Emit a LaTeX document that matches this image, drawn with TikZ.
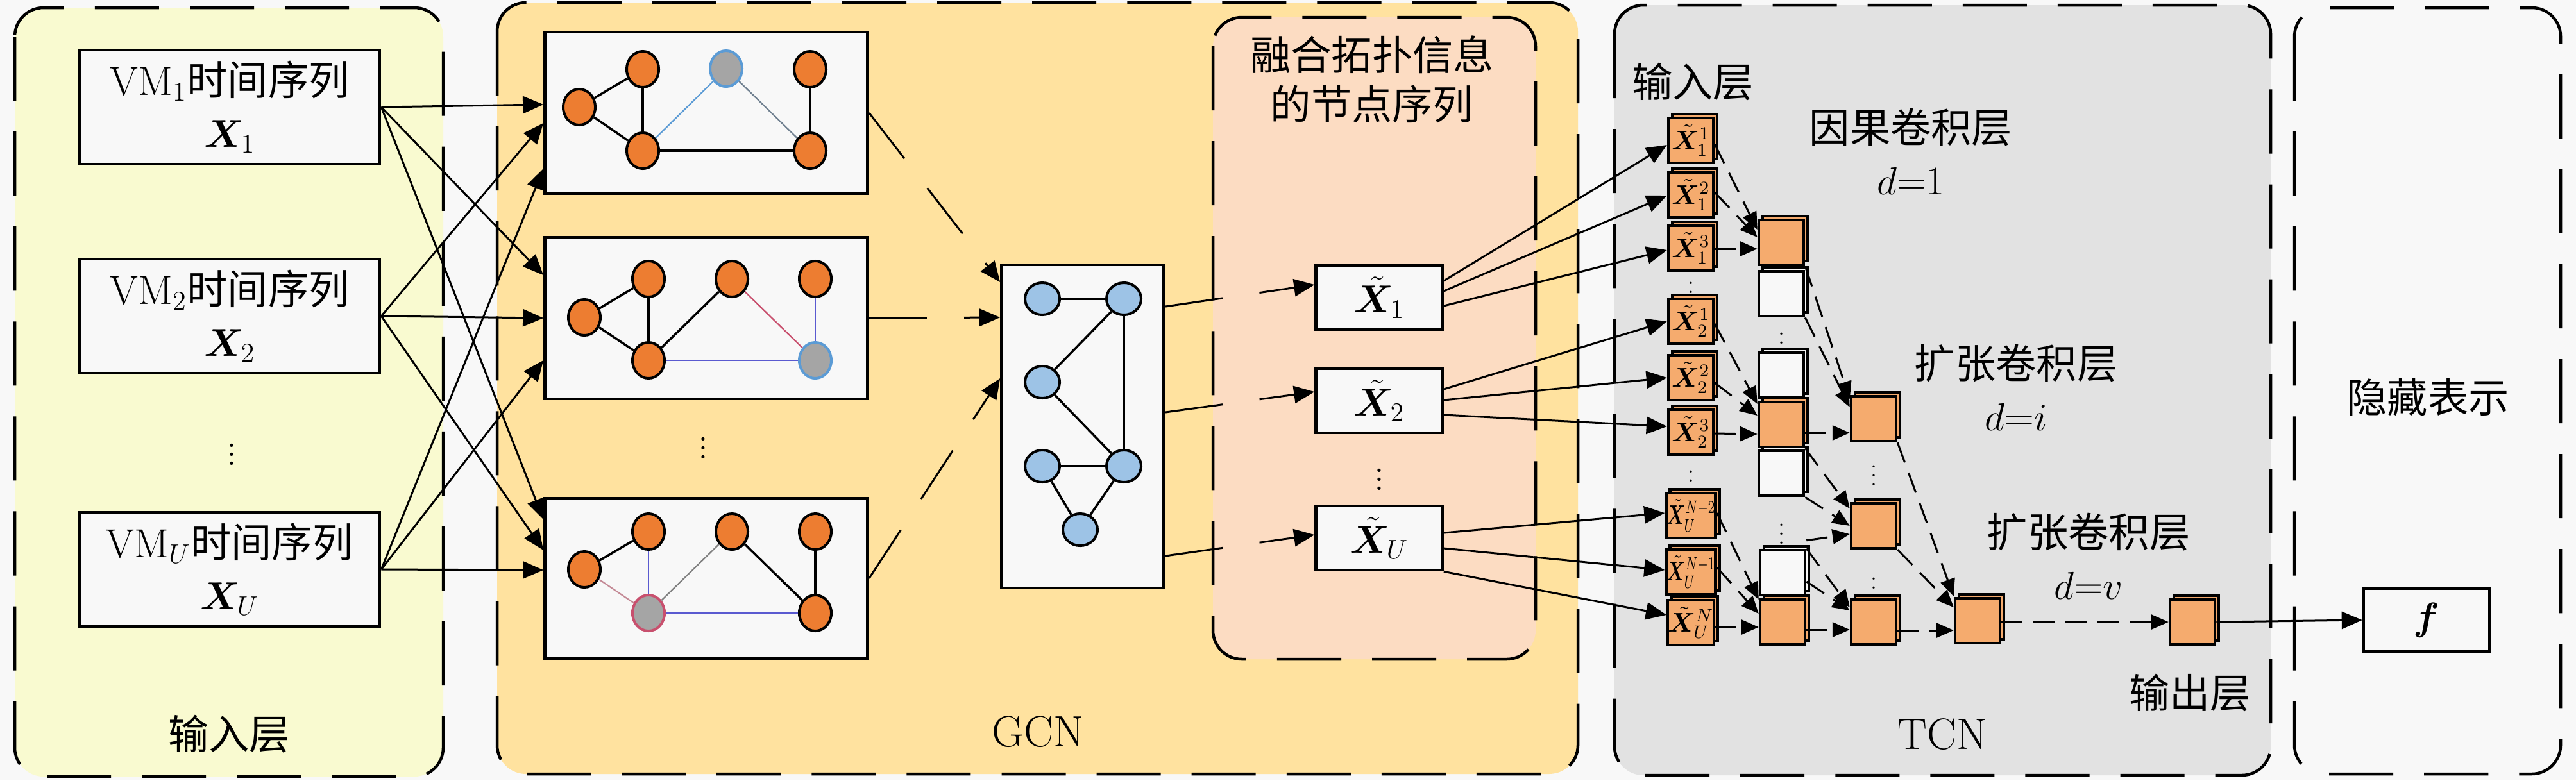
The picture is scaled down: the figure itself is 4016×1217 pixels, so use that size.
\documentclass[tikz,border=0pt]{standalone}
\usepackage{fontspec}
\usepackage{amsmath}
\usepackage{bm}
\newfontfamily\cjkfont{Noto Sans CJK SC}
\newcommand{\zhtxt}[1]{{\cjkfont #1}}
\usetikzlibrary{arrows.meta,shapes.geometric,shadows}
\definecolor{bgc}{HTML}{F8F8F8}
\definecolor{inpc}{HTML}{F9FAD0}
\definecolor{gcnc}{HTML}{FFE29F}
\definecolor{fusc}{HTML}{FCDCC2}
\definecolor{tcnc}{HTML}{E2E2E2}
\definecolor{orn}{HTML}{ED7D31}
\definecolor{gry}{HTML}{A5A5A5}
\definecolor{lblu}{HTML}{9DC3E6}
\definecolor{sqc}{HTML}{F5AB6E}
\definecolor{eblue}{HTML}{5B9BD5}
\definecolor{eslate}{HTML}{708090}
\definecolor{epur}{HTML}{5A5AD0}
\definecolor{epink}{HTML}{C8506E}
\definecolor{erose}{HTML}{C48A96}
\begin{document}
\begin{tikzpicture}[x=0.01cm,y=-0.01cm,
  every node/.style={font=\fontsize{18}{23}\selectfont},
  panel/.style={draw=black,line width=0.045cm,dash pattern=on 1cm off 0.48cm,rounded corners=0.45cm},
  sbox/.style={draw=black,line width=0.045cm,fill=bgc,inner sep=0pt,align=center},
  onode/.style={ellipse,draw=black,line width=0.04cm,fill=orn,minimum width=0.5cm,minimum height=0.56cm,inner sep=0pt},
  bnode/.style={ellipse,draw=black,line width=0.04cm,fill=lblu,minimum width=0.54cm,minimum height=0.5cm,inner sep=0pt},
  gedge/.style={line width=0.035cm},
  cedge/.style={line width=0.022cm},
  conn/.style={line width=0.03cm,-{Triangle[length=0.32cm,width=0.27cm]}},
  lconn/.style={conn,dash pattern=on 0.9cm off 0.58cm},
  tconn/.style={line width=0.03cm,dash pattern=on 0.33cm off 0.17cm,-{Triangle[length=0.27cm,width=0.23cm]}},
  sqo/.style={draw=black,fill=sqc,line width=0.045cm,minimum size=0.7cm,inner sep=0pt,
    copy shadow={shadow xshift=0.06cm,shadow yshift=0.06cm},font=\fontsize{11.5}{12}\selectfont},
  sqw/.style={sqo,fill=bgc},
  tdots/.style={font=\fontsize{9}{10}\selectfont,inner sep=0pt}
]
\useasboundingbox (0,0) rectangle (4016,1217);
\fill[bgc] (0,0) rectangle (4016,1217);

% panels
\draw[panel,fill=inpc] (23,12) rectangle (691,1211);
\draw[panel,fill=gcnc] (775,4) rectangle (2460,1207);
\draw[panel,fill=fusc] (1891,27) rectangle (2394,1028);
\draw[panel,fill=tcnc] (2517,8) rectangle (3540,1209);
\draw[panel,fill=bgc] (3577,12) rectangle (3992,1207);

% panel labels
\node (inlbl) at (357,1145) {\zhtxt{输入层}};
\node[font=\fontsize{19.5}{23}\selectfont] (gcnlbl) at (1618,1141) {GCN};
\node[align=center,font=\fontsize{18}{22}\selectfont] (fuselbl) at (2139,124) {\zhtxt{融合拓扑信息}\\\zhtxt{的节点序列}};
\node (tinlbl) at (2639,128) {\zhtxt{输入层}};
\node[align=center] (causlbl) at (2979,236) {\zhtxt{因果卷积层}\\$d$=1};
\node[align=center] (dil1lbl) at (3143,604) {\zhtxt{扩张卷积层}\\$d$=$i$};
\node[align=center] (dil2lbl) at (3256,867) {\zhtxt{扩张卷积层}\\$d$=$v$};
\node[font=\fontsize{19.5}{23}\selectfont] (tcnlbl) at (3028,1145) {TCN};
\node (outlbl) at (3414,1081) {\zhtxt{输出层}};
\node (hidlbl) at (3785,619) {\zhtxt{隐藏表示}};

% input boxes
\node[sbox,minimum width=4.68cm,minimum height=1.78cm] (vm1) at (358,167) {VM$_1$\zhtxt{时间序列}\\$\bm{X}_1$};
\node[sbox,minimum width=4.68cm,minimum height=1.78cm] (vm2) at (358,493) {VM$_2$\zhtxt{时间序列}\\$\bm{X}_2$};
\node[sbox,minimum width=4.68cm,minimum height=1.78cm] (vmu) at (358,888) {VM$_U$\zhtxt{时间序列}\\$\bm{X}_U$};
\node (vdin) at (361,698) {$\vdots$};

% graph boxes
\node[sbox,minimum width=5.03cm,minimum height=2.52cm] (g1) at (1101,176) {};
\node[sbox,minimum width=5.03cm,minimum height=2.52cm] (g2) at (1101,496) {};
\node[sbox,minimum width=5.03cm,minimum height=2.5cm] (g3) at (1101,902) {};
\node (vdg) at (1096,688) {$\vdots$};

% graph 1
\node[onode] (g1a) at (903,167) {};
\node[onode] (g1b) at (1002,108) {};
\node[onode,fill=gry,draw=eblue] (g1c) at (1132,107) {};
\node[onode] (g1d) at (1263,108) {};
\node[onode] (g1e) at (1002,235) {};
\node[onode] (g1f) at (1263,235) {};
\draw[gedge] (g1a) -- (g1b);
\draw[gedge] (g1a) -- (g1e);
\draw[gedge] (g1b) -- (g1e);
\draw[gedge] (g1e) -- (g1f);
\draw[gedge] (g1d) -- (g1f);
\draw[cedge,eblue] (g1e) -- (g1c);
\draw[cedge,eslate] (g1c) -- (g1f);

% graph 2
\node[onode] (g2a) at (911,495) {};
\node[onode] (g2b) at (1011,435) {};
\node[onode] (g2c) at (1141,435) {};
\node[onode] (g2d) at (1271,435) {};
\node[onode] (g2e) at (1011,562) {};
\node[onode,fill=gry,draw=eblue] (g2f) at (1271,562) {};
\draw[gedge] (g2a) -- (g2b);
\draw[gedge] (g2a) -- (g2e);
\draw[gedge] (g2b) -- (g2e);
\draw[gedge] (g2e) -- (g2c);
\draw[cedge,epink] (g2c) -- (g2f);
\draw[cedge,epur] (g2d) -- (g2f);
\draw[cedge,epur] (g2e) -- (g2f);

% graph 3
\node[onode] (g3a) at (911,888) {};
\node[onode] (g3b) at (1011,829) {};
\node[onode] (g3c) at (1141,829) {};
\node[onode] (g3d) at (1271,829) {};
\node[onode,fill=gry,draw=epink] (g3e) at (1011,956) {};
\node[onode] (g3f) at (1271,956) {};
\draw[gedge] (g3a) -- (g3b);
\draw[cedge,erose] (g3a) -- (g3e);
\draw[cedge,epur] (g3b) -- (g3e);
\draw[cedge,gray] (g3e) -- (g3c);
\draw[gedge] (g3c) -- (g3f);
\draw[gedge] (g3d) -- (g3f);
\draw[cedge,epur] (g3e) -- (g3f);

% fused graph
\node[sbox,minimum width=2.53cm,minimum height=5.04cm] (m) at (1688,665) {};
\node[bnode] (n1) at (1625,466) {};
\node[bnode] (n2) at (1752,466) {};
\node[bnode] (n3) at (1625,596) {};
\node[bnode] (n4) at (1625,727) {};
\node[bnode] (n5) at (1752,727) {};
\node[bnode] (n6) at (1684,826) {};
\draw[gedge] (n1) -- (n2);
\draw[gedge] (n2) -- (n3);
\draw[gedge] (n2) -- (n5);
\draw[gedge] (n3) -- (n5);
\draw[gedge] (n4) -- (n5);
\draw[gedge] (n4) -- (n6);
\draw[gedge] (n5) -- (n6);

% node sequences
\node[sbox,minimum width=1.97cm,minimum height=1.0cm] (x1) at (2150,464) {$\tilde{\bm{X}}_1$};
\node[sbox,minimum width=1.97cm,minimum height=1.0cm] (x2) at (2150,625) {$\tilde{\bm{X}}_2$};
\node[sbox,minimum width=1.97cm,minimum height=1.0cm] (xu) at (2150,839) {$\tilde{\bm{X}}_U$};
\node (vdx) at (2150,737) {$\vdots$};

% TCN input column
\node[sqo] (i11) at (2636,219) {$\tilde{\bm X}^1_1$};
\node[sqo] (i12) at (2636,304) {$\tilde{\bm X}^2_1$};
\node[sqo] (i13) at (2636,387) {$\tilde{\bm X}^3_1$};
\node[tdots] (d1) at (2636,445) {$\vdots$};
\node[sqo] (i21) at (2636,501) {$\tilde{\bm X}^1_2$};
\node[sqo] (i22) at (2636,589) {$\tilde{\bm X}^2_2$};
\node[sqo] (i23) at (2636,674) {$\tilde{\bm X}^3_2$};
\node[tdots] (d2) at (2636,739) {$\vdots$};
\node[sqo] (iu1) at (2636,804) {\scalebox{0.7}[1]{$\tilde{\bm X}^{N-2}_U$}};
\node[sqo] (iu2) at (2636,892) {\scalebox{0.7}[1]{$\tilde{\bm X}^{N-1}_U$}};
\node[sqo] (iu3) at (2636,971) {$\tilde{\bm X}^{N}_U$};

% layer 1
\node[sqo] (a1) at (2777,378) {};
\node[sqw] (w1) at (2777,458) {};
\node[tdots] (d3) at (2777,524) {$\vdots$};
\node[sqw] (w2) at (2777,585) {};
\node[sqo] (a2) at (2777,662) {};
\node[sqw] (w3) at (2777,738) {};
\node[tdots] (d4) at (2777,822) {$\vdots$};
\node[sqw] (w4) at (2779,893) {};
\node[sqo] (a3) at (2779,970) {};

% layer 2
\node[sqo] (b1) at (2921,653) {};
\node[tdots] (d5) at (2921,731) {$\vdots$};
\node[sqo] (b2) at (2921,820) {};
\node[tdots] (d6) at (2921,906) {$\vdots$};
\node[sqo] (b3) at (2921,970) {};

% layer 3 and output
\node[sqo] (c1) at (3083,968) {};
\node[sqo] (o) at (3418,970) {};
\node[sbox,minimum width=1.96cm,minimum height=0.99cm] (f) at (3783,967) {$\bm{f}$};

% connectors: input -> graphs
\draw[conn] (vm1.east) -- ([shift={(0,-13)}]g1.west);
\draw[conn] (vm1.east) -- ([shift={(0,-67)}]g2.west);
\draw[conn] (vm1.east) -- ([shift={(0,-92)}]g3.west);
\draw[conn] (vm2.east) -- ([shift={(0,16)}]g1.west);
\draw[conn] (vm2.east) -- (g2.west);
\draw[conn] (vm2.east) -- ([shift={(0,-44)}]g3.west);
\draw[conn] (vmu.east) -- ([shift={(0,87)}]g1.west);
\draw[conn] (vmu.east) -- ([shift={(0,66)}]g2.west);
\draw[conn] (vmu.east) -- ([shift={(0,-13)}]g3.west);

% graphs -> fused graph
\draw[lconn] (g1.east) -- ([shift={(0,-225)}]m.west);
\draw[lconn] (g2.east) -- ([shift={(0,-170)}]m.west);
\draw[lconn] (g3.east) -- ([shift={(0,-75)}]m.west);

% fused graph -> sequences
\draw[lconn] ([shift={(0,-187)}]m.east) -- ([shift={(0,-20)}]x1.west);
\draw[lconn] ([shift={(0,-22)}]m.east) -- ([shift={(0,-14)}]x2.west);
\draw[lconn] ([shift={(0,202)}]m.east) -- ([shift={(0,-5)}]xu.west);

% sequences -> TCN inputs
\draw[conn] ([shift={(0,-26)}]x1.east) -- ([shift={(0,7)}]i11.west);
\draw[conn] ([shift={(0,-10)}]x1.east) -- ([shift={(0,1)}]i12.west);
\draw[conn] ([shift={(0,13)}]x1.east) -- ([shift={(0,3)}]i13.west);
\draw[conn] ([shift={(0,-18)}]x2.east) -- (i21.west);
\draw[conn] ([shift={(0,-1)}]x2.east) -- (i22.west);
\draw[conn] ([shift={(0,22)}]x2.east) -- ([shift={(0,-9)}]i23.west);
\draw[conn] ([shift={(0,-8)}]xu.east) -- ([shift={(0,-4)}]iu1.west);
\draw[conn] ([shift={(0,16)}]xu.east) -- ([shift={(0,-3)}]iu2.west);
\draw[conn] (xu.south east) -- ([shift={(0,-12)}]iu3.west);

% TCN dashed connections
\draw[tconn] ([shift={(0,6)}]i11.east) -- ([shift={(0,-20)}]a1.west);
\draw[tconn] ([shift={(0,-4)}]i12.east) -- ([shift={(0,-8)}]a1.west);
\draw[tconn] ([shift={(0,1)}]i13.east) -- ([shift={(0,10)}]a1.west);
\draw[tconn] ([shift={(0,4)}]i21.east) -- ([shift={(0,-32)}]a2.west);
\draw[tconn] ([shift={(0,8)}]i22.east) -- ([shift={(0,-14)}]a2.west);
\draw[tconn] ([shift={(0,2)}]i23.east) -- ([shift={(0,15)}]a2.west);
\draw[tconn] ([shift={(0,-4)}]iu1.east) -- ([shift={(0,-35)}]a3.west);
\draw[tconn] ([shift={(0,-7)}]iu2.east) -- ([shift={(0,-13)}]a3.west);
\draw[tconn] ([shift={(0,7)}]iu3.east) -- ([shift={(0,8)}]a3.west);

\draw[tconn] (a1.south east) -- ([shift={(0,-31)}]b1.west);
\draw[tconn] (w1.south east) -- ([shift={(0,-18)}]b1.west);
\draw[tconn] ([shift={(0,13)}]a2.east) -- ([shift={(0,22)}]b1.west);
\draw[tconn] (a2.south east) -- ([shift={(0,-27)}]b2.west);
\draw[tconn] (w3.south east) -- (b2.west);
\draw[tconn] ([shift={(0,-13)}]w4.north east) -- ([shift={(0,13)}]b2.west);
\draw[tconn] (w4.north east) -- ([shift={(0,-23)}]b3.west);
\draw[tconn] ([shift={(0,14)}]w4.east) -- ([shift={(0,-18)}]b3.west);
\draw[tconn] ([shift={(0,12)}]a3.east) -- ([shift={(0,12)}]b3.west);
\draw[tconn] (b1.south east) -- ([shift={(0,-38)}]c1.west);
\draw[tconn] (b2.south east) -- ([shift={(0,-21)}]c1.west);
\draw[tconn] ([shift={(0,13)}]b3.east) -- ([shift={(0,15)}]c1.west);
\draw[tconn] ([shift={(0,2)}]c1.east) -- (o.west);
\draw[conn] (o.east) -- (f.west);
\end{tikzpicture}
\end{document}
